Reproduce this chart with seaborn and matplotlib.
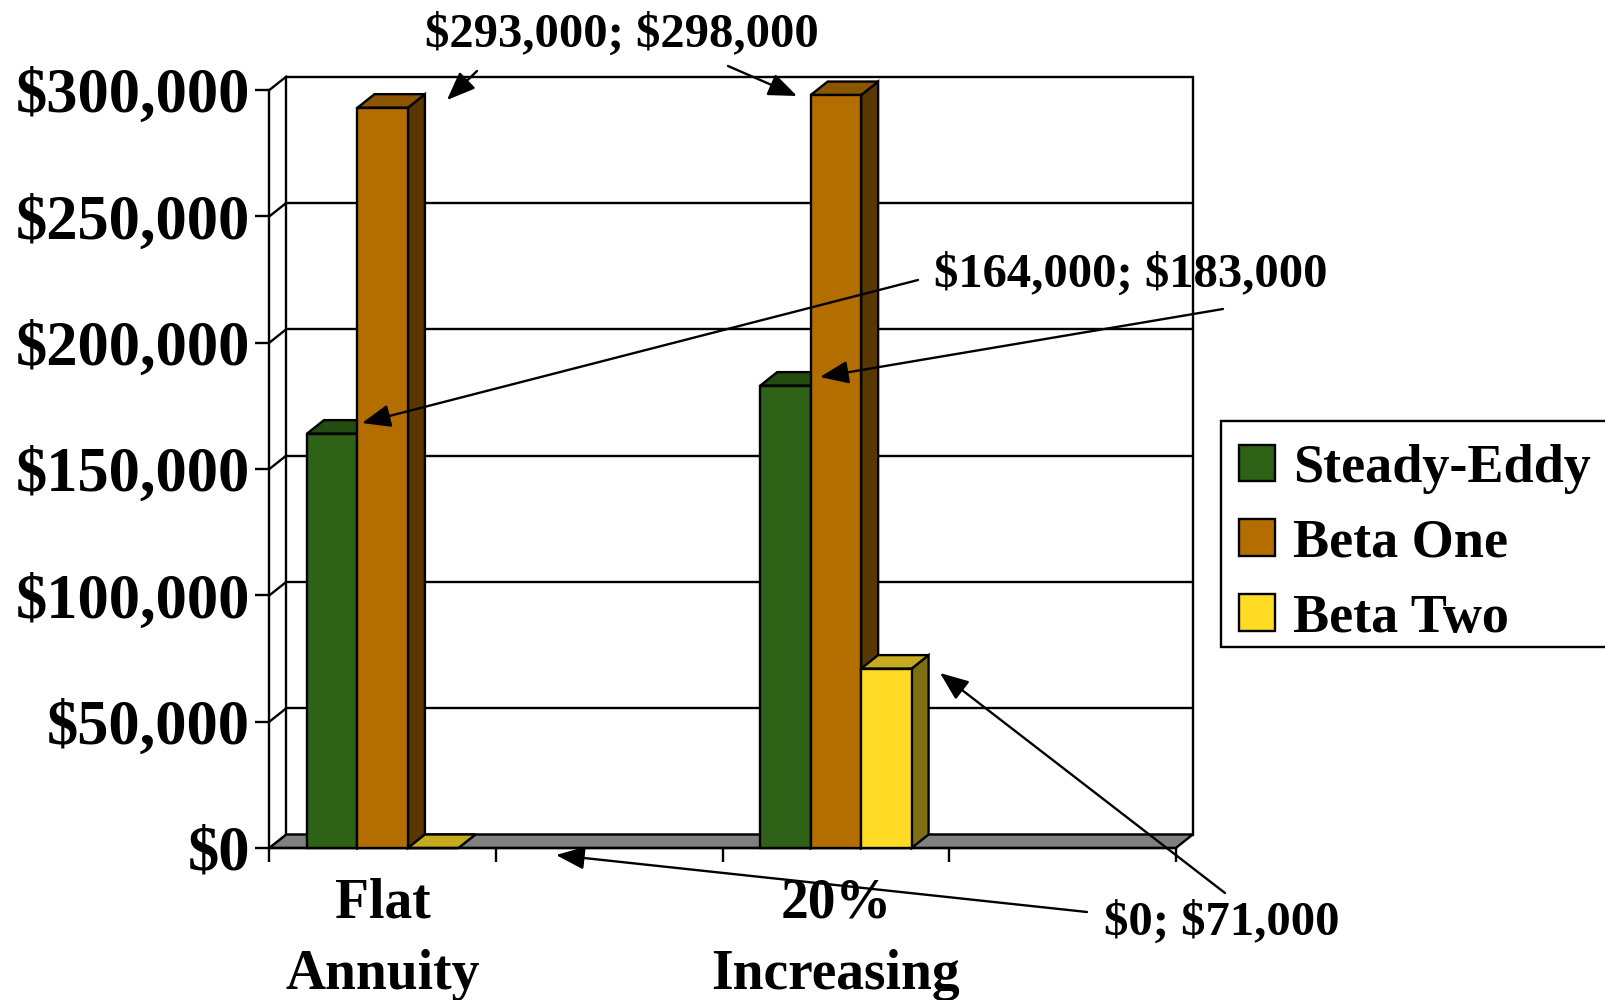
import numpy as np
import pandas as pd
import matplotlib
matplotlib.use("Agg")
import matplotlib.pyplot as plt
from matplotlib.patches import Polygon, Rectangle
from matplotlib.ticker import FuncFormatter, FixedLocator
import seaborn as sns

# ---------------- data ----------------
categories = ["Flat\nAnnuity", " ", "20%\nIncreasing", "  "]
category_labels = ["Flat\nAnnuity", "", "20%\nIncreasing", ""]
data_categories = ["Flat\nAnnuity", "20%\nIncreasing"]
series = ["Steady-Eddy", "Beta One", "Beta Two"]
steady_eddy = [164000, 183000]
beta_one = [293000, 298000]
beta_two = [0, 71000]
colors = ["#2E6216", "#B46E00", "#FFDB26"]
y_ticks = [0, 50000, 100000, 150000, 200000, 250000, 300000]
callouts = ["$293,000; $298,000", "$164,000; $183,000", "$0; $71,000"]

df = pd.DataFrame({
    "category": data_categories * 3,
    "series": np.repeat(series, 2),
    "value": steady_eddy + beta_one + beta_two,
})

sns.set_style("white")
plt.rcParams["font.family"] = ["Liberation Serif", "DejaVu Serif"]
plt.rcParams["font.weight"] = "bold"
for k in ["text.color", "xtick.color", "ytick.color", "axes.labelcolor", "axes.edgecolor"]:
    plt.rcParams[k] = "black"

W, H = 1606, 1000
fig = plt.figure(figsize=(W / 100, H / 100), dpi=100)
ax_left, ax_right, ax_top, ax_bot = 269.4, 1175.8, 90, 848
ax = fig.add_axes([ax_left / W, 1 - ax_bot / H, (ax_right - ax_left) / W, (ax_bot - ax_top) / H])

sns.barplot(data=df, x="category", y="value", hue="series", order=categories,
            hue_order=series, palette=colors, saturation=1, width=0.668,
            edgecolor="black", linewidth=1.6, errorbar=None, ax=ax)

x0, x1 = -0.5, 3.5
ymax = y_ticks[-1]
ax.set_xlim(x0, x1)
ax.set_ylim(0, ymax)
ax.set_xlabel("")
ax.set_ylabel("")

# depth offset (pixels -> data units)
px_x = (ax_right - ax_left) / (x1 - x0)
px_y = (ax_bot - ax_top) / ymax
dx = 17 / px_x
dy = 13.5 / px_y
LW = 1.7

bars = sorted([p for p in ax.patches if isinstance(p, Rectangle)
               and np.isfinite(p.get_height()) and p.get_width() > 0.05],
              key=lambda p: p.get_x())
for p in ax.patches:
    if isinstance(p, Rectangle) and p not in bars:
        p.set_visible(False)

# back wall, floor, side wall
ax.add_patch(Rectangle((x0 + dx, dy), x1 - x0, ymax, facecolor="white", edgecolor="black",
                       lw=LW, zorder=0.5, clip_on=False))
for t in y_ticks[1:-1]:
    ax.plot([x0 + dx, x1 + dx], [t + dy, t + dy], color="black", lw=LW, zorder=0.6, clip_on=False)
for t in y_ticks:
    ax.plot([x0, x0 + dx], [t, t + dy], color="black", lw=LW, zorder=0.6, clip_on=False)
ax.add_patch(Polygon([(x0, 0), (x1, 0), (x1 + dx, dy), (x0 + dx, dy)], closed=True,
                     facecolor="#808080", edgecolor="black", lw=LW, zorder=1, clip_on=False))

# 3D bar faces
for i, p in enumerate(bars):
    x, w, h = p.get_x(), p.get_width(), p.get_height()
    fc = np.array(p.get_facecolor()[:3])
    z = 3 + 3 * i
    ax.add_patch(Polygon([(x + w, 0), (x + w, h), (x + w + dx, h + dy), (x + w + dx, dy)],
                         closed=True, facecolor=fc * 0.5, edgecolor="black", lw=LW,
                         zorder=z, clip_on=False))
    ax.add_patch(Polygon([(x, h), (x + w, h), (x + w + dx, h + dy), (x + dx, h + dy)],
                         closed=True, facecolor=fc * 0.78, edgecolor="black", lw=LW,
                         zorder=z + 1, clip_on=False))
    p.set_zorder(z + 2)
    p.set_linewidth(LW)
    p.set_clip_on(False)

# spines
for s in ["top", "right"]:
    ax.spines[s].set_visible(False)
for s in ["left", "bottom"]:
    ax.spines[s].set_color("black")
    ax.spines[s].set_linewidth(LW)
    ax.spines[s].set_zorder(2)

# ticks
ax.yaxis.set_major_locator(FixedLocator(y_ticks))
ax.yaxis.set_major_formatter(FuncFormatter(lambda v, _: "${:,.0f}".format(v)))
ax.tick_params(axis="y", which="major", direction="out", length=10, width=LW, pad=4,
               labelsize=45, color="black", labelcolor="black", left=True)
ax.set_xticks(range(len(categories)))
ax.set_xticklabels(category_labels)
ax.set_xticks(np.arange(x0, x1 + 0.01, 1.0), minor=True)
ax.tick_params(axis="x", which="major", length=0, pad=21, labelsize=40, labelcolor="black")
ax.tick_params(axis="x", which="minor", direction="out", length=10, width=LW,
               color="black", bottom=True)
for lbl in ax.get_xticklabels():
    lbl.set_linespacing(1.5)
for lbl in ax.get_xticklabels() + ax.get_yticklabels():
    lbl.set_fontweight("bold")


def P(x, y):
    return (x / W, 1 - y / H)


# legend (frame drawn separately; it runs off the right edge as in the reference)
if ax.get_legend() is not None:
    ax.get_legend().remove()
handles = [Rectangle((0, 0), 1, 1, facecolor=c, edgecolor="black", lw=LW) for c in colors]
leg = fig.legend(handles, series, loc="upper left", bbox_to_anchor=P(1239, 444),
                 bbox_transform=fig.transFigure, frameon=False, handlelength=0.67,
                 handleheight=0.67, handletextpad=0.33, labelspacing=0.46,
                 borderpad=0, borderaxespad=0, prop={"weight": "bold", "size": 39})
for t in leg.get_texts():
    t.set_color("black")
fx, fy = P(1221, 647)
fig.add_artist(Rectangle((fx, fy), 450 / W, (647 - 421) / H, transform=fig.transFigure,
                         facecolor="white", edgecolor="black", lw=LW, zorder=0.5))

# callouts
fig.text(*P(622, 47), callouts[0], ha="center", va="baseline", fontsize=35,
         fontweight="bold", parse_math=False, color="black")
fig.text(*P(1131, 287), callouts[1], ha="center", va="baseline", fontsize=35,
         fontweight="bold", parse_math=False, color="black")
fig.text(*P(1222, 935), callouts[2], ha="center", va="baseline", fontsize=35,
         fontweight="bold", parse_math=False, color="black")

arrows = [((477, 71), (447, 100)), ((728, 66), (797, 96)),
          ((918, 280), (362, 423)), ((1223, 309), (820, 377)),
          ((1087, 912), (556, 855)), ((1225, 893), (940, 673))]
for tail, head in arrows:
    ax.annotate("", xy=P(*head), xycoords="figure fraction", xytext=P(*tail),
                textcoords="figure fraction", annotation_clip=False, zorder=30,
                arrowprops=dict(arrowstyle="-|>,head_length=0.7,head_width=0.28",
                                mutation_scale=25, lw=LW, color="black",
                                shrinkA=0, shrinkB=0))

fig.savefig("out.png", dpi=100)
